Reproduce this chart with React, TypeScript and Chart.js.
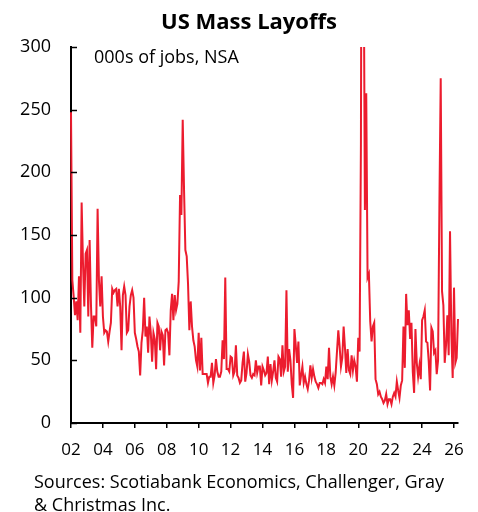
import React, { useEffect, useRef } from "react";
import { Chart, registerables } from "chart.js";

Chart.register(...registerables);

// ---- Text ----
const TITLE = "US Mass Layoffs";
const UNIT_LABEL = "000s of jobs, NSA";
const SOURCE_LINES = [
  "Sources: Scotiabank Economics, Challenger, Gray",
  "& Christmas Inc.",
];

// ---- Axes ----
const X_TICK_LABELS = ["02", "04", "06", "08", "10", "12", "14", "16", "18", "20", "22", "24", "26"];
const MONTHS_PER_X_TICK = 24;
const Y_TICKS = [0, 50, 100, 150, 200, 250, 300];

// ---- Monthly job cuts, 000s (Jan..Dec) ----
const y2002 = [248, 114, 101, 86, 97, 82, 117, 72, 176, 128, 93, 135];
const y2003 = [138, 85, 146, 95, 60, 85, 85, 77, 171, 114, 93, 117];
const y2004 = [85, 72, 74, 73, 65, 73, 80, 107, 104, 106, 107, 93];
const y2005 = [107, 93, 58, 102, 109, 102, 72, 74, 93, 102, 106, 100];
const y2006 = [72, 67, 61, 57, 38, 64, 74, 100, 69, 77, 56, 85];
const y2007 = [72, 49, 72, 67, 43, 80, 77, 58, 73, 70, 46, 74];
const y2008 = [75, 72, 54, 90, 103, 82, 102, 90, 95, 113, 182, 166];
const y2009 = [242, 186, 138, 133, 111, 74, 97, 77, 66, 61, 50, 45];
const y2010 = [72, 42, 68, 39, 39, 39, 39, 32, 37, 37, 48, 32];
const y2011 = [38, 51, 41, 37, 37, 41, 66, 51, 116, 43, 43, 41];
const y2012 = [53, 52, 38, 41, 62, 38, 36, 32, 34, 48, 57, 33];
const y2013 = [40, 55, 49, 38, 36, 39, 38, 50, 40, 45, 45, 30];
const y2014 = [45, 42, 38, 40, 53, 31, 47, 34, 41, 50, 36, 33];
const y2015 = [53, 51, 37, 62, 41, 45, 106, 41, 59, 50, 31, 20];
const y2016 = [75, 62, 48, 65, 30, 38, 45, 32, 37, 31, 27, 34];
const y2017 = [46, 36, 43, 37, 33, 31, 28, 32, 32, 31, 35, 32];
const y2018 = [45, 35, 60, 37, 31, 37, 30, 40, 57, 74, 61, 45];
const y2019 = [52, 77, 60, 40, 59, 42, 39, 54, 42, 50, 45, 33];
const y2020 = [68, 57, 222, 671, 397, 170, 263, 116, 119, 81, 65, 77];
const y2021 = [80, 35, 31, 23, 25, 21, 19, 16, 18, 23, 15, 19];
const y2022 = [19, 15, 21, 24, 21, 33, 26, 20, 30, 34, 77, 44];
const y2023 = [103, 78, 90, 67, 80, 41, 24, 75, 48, 37, 46, 35];
const y2024 = [82, 85, 90, 65, 64, 49, 26, 76, 73, 56, 58, 39];
const y2025 = [50, 172, 275, 105, 94, 48, 62, 86, 54, 153, 71, 36];
const y2026 = [108, 48, 52, 83];

const LAYOFFS = [
  ...y2002, ...y2003, ...y2004, ...y2005, ...y2006, ...y2007, ...y2008,
  ...y2009, ...y2010, ...y2011, ...y2012, ...y2013, ...y2014, ...y2015,
  ...y2016, ...y2017, ...y2018, ...y2019, ...y2020, ...y2021, ...y2022,
  ...y2023, ...y2024, ...y2025, ...y2026,
];

const RED = "#EC1C2E";
const FONT = "'Open Sans'";

const decorPlugin = {
  id: "decor",
  afterDraw(chart: any) {
    const { ctx, chartArea, scales } = chart;
    ctx.save();
    // inward y ticks
    ctx.strokeStyle = "#000";
    ctx.lineWidth = 1.5;
    Y_TICKS.forEach((v) => {
      const y = Math.round(scales.y.getPixelForValue(v)) + 0.5;
      ctx.beginPath();
      ctx.moveTo(chartArea.left, y);
      ctx.lineTo(chartArea.left + 6, y);
      ctx.stroke();
    });
    ctx.fillStyle = "#000";
    ctx.textBaseline = "alphabetic";
    // title
    ctx.font = `bold 22px ${FONT}`;
    ctx.textAlign = "center";
    ctx.fillText(TITLE, 249, 29);
    // unit label
    ctx.font = `18px ${FONT}`;
    ctx.textAlign = "left";
    ctx.fillText(UNIT_LABEL, 94, 63);
    // sources
    ctx.font = `18px ${FONT}`;
    ctx.fillText(SOURCE_LINES[0], 34, 487.5);
    ctx.fillText(SOURCE_LINES[1], 34, 511);
    ctx.restore();
  },
};

export default function App() {
  const canvasRef = useRef<HTMLCanvasElement | null>(null);

  useEffect(() => {
    document.body.style.margin = "0";
    const canvas = canvasRef.current;
    if (!canvas) return;
    const points = LAYOFFS.map((v, i) => ({ x: i, y: v }));
    const lastIndex = LAYOFFS.length - 1;
    const chart = new Chart(canvas, {
      type: "line",
      data: {
        datasets: [
          {
            data: points,
            borderColor: RED,
            backgroundColor: RED,
            borderWidth: 2,
            pointRadius: 0,
            tension: 0,
            clip: { left: 3, top: 0, right: 3, bottom: 0 } as any,
          },
        ],
      },
      options: {
        responsive: false,
        animation: false,
        devicePixelRatio: 1,
        layout: { padding: { top: 47, right: 20, left: 0, bottom: 0 } },
        plugins: {
          legend: { display: false },
          title: { display: false },
          tooltip: { enabled: false },
        },
        scales: {
          x: {
            type: "linear",
            min: 0,
            max: lastIndex,
            afterBuildTicks: (scale: any) => {
              scale.ticks = X_TICK_LABELS.map((_, i) => ({ value: i * MONTHS_PER_X_TICK }));
            },
            afterFit: (scale: any) => {
              scale.height = 89;
            },
            ticks: {
              autoSkip: false,
              maxRotation: 0,
              color: "#000",
              padding: 12,
              font: { family: FONT, size: 17 },
              callback: (value: any) => X_TICK_LABELS[Math.round(Number(value) / MONTHS_PER_X_TICK)] ?? "",
            },
            grid: {
              display: true,
              drawOnChartArea: false,
              drawTicks: true,
              tickLength: 5,
              color: "#000",
              lineWidth: 1.5,
            },
            border: { display: true, color: "#000", width: 2 },
          },
          y: {
            min: 0,
            max: 300,
            afterFit: (scale: any) => {
              scale.width = 71;
            },
            afterBuildTicks: (scale: any) => {
              scale.ticks = Y_TICKS.map((v) => ({ value: v }));
            },
            ticks: {
              color: "#000",
              padding: 20,
              font: { family: FONT, size: 18 },
            },
            grid: { display: false, drawTicks: false },
            border: { display: true, color: "#000", width: 2 },
          },
        },
      },
      plugins: [decorPlugin],
    });
    return () => chart.destroy();
  }, []);

  return (
    <div style={{ position: "fixed", left: 0, top: 0, width: 478, height: 512, background: "#fff" }}>
      <canvas ref={canvasRef} width={478} height={512} style={{ display: "block" }} />
    </div>
  );
}
